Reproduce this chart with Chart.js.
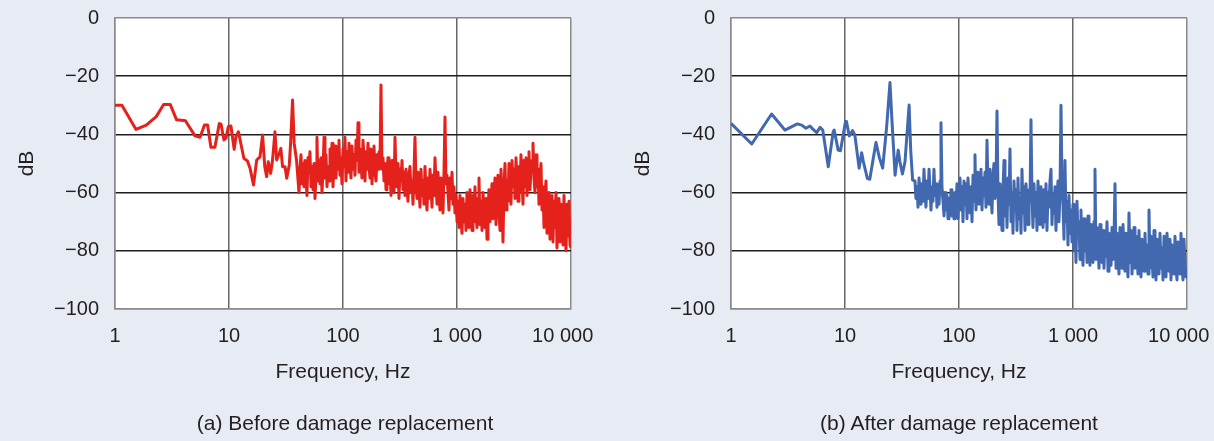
<!DOCTYPE html>
<html>
<head>
<meta charset="utf-8">
<script src="https://cdn.jsdelivr.net/npm/chart.js@4.4.0/dist/chart.umd.min.js"></script>
<style>
  body {
    margin: 0;
    width: 1214px;
    height: 441px;
    overflow: hidden;
    position: relative;
    background: #e7ebf4;
    font-family: "Liberation Sans", Arial, Helvetica, sans-serif;
    color: #231f20;
  }
  canvas { position: absolute; top: 0; }
  #chartA { left: 0; }
  #chartB { left: 616px; }
  .caption {
    position: absolute;
    top: 411px;
    width: 400px;
    text-align: center;
    font-size: 21px;
    line-height: 24px;
  }
</style>
</head>
<body>
<canvas id="chartA" width="616" height="441"></canvas>
<canvas id="chartB" width="598" height="441"></canvas>
<div class="caption" style="left:145px">(a) Before damage replacement</div>
<div class="caption" style="left:759px">(b) After damage replacement</div>

<script>
// --- axis ticks ---
const tickHz = [1, 10, 100, 1000, 10000];
const tickHzLabels = ['1', '10', '100', '1 000', '10 000'];
const tickDb = [0, -20, -40, -60, -80, -100];
const tickDbLabels = ['0', '\u221220', '\u221240', '\u221260', '\u221280', '\u2212100'];

// --- low frequency part (sparse, read point by point) ---
const redLowHz = [1, 1.15, 1.53, 1.88, 2.3, 2.67, 3.05, 3.47, 4.15, 5.03, 5.57, 6.1, 6.49, 6.94, 7.52,
  8.22, 8.51, 9.03, 9.41, 9.87, 10.4, 11.1, 11.5, 12.1, 12.9, 13.5, 14.5, 15.3, 16.4, 17.5,
  18.7, 19.7, 20.6, 21.4, 22.1, 23.2, 24.1, 25.3, 26.2, 27.6, 28.5, 29.5, 31, 32.1, 33.8,
  34.7, 36.1, 37.3, 39.1];
const redLowDb = [-30, -30, -38.3, -36.8, -33.9, -29.7, -29.7, -35, -35.3, -40.5, -41, -36.8, -36.8, -44.4, -44.4,
  -36.3, -36.4, -41.9, -41.3, -37.3, -37.1, -45.1, -40.8, -39.1, -44.4, -48.2, -49.1, -51.6, -57.4, -48.8,
  -47.7, -40.2, -51.1, -54.5, -49.4, -53.4, -48.8, -39.1, -48.8, -46.5, -44.8, -51.1, -51.1, -55.1, -50.5,
  -43.1, -28.2, -43.1, -48.8];

const blueLowHz = [1, 1.52, 2.27, 2.97, 3.82, 4.17, 4.54, 4.93, 5.2, 5.65, 6.04, 6.38, 7.13, 7.88, 8.04,
  8.71, 9.13, 10.1, 10.3, 10.9, 11.66, 12.2, 13.3, 14, 14.5, 15.7, 16.5, 17.9, 18.7, 20,
  21.4, 23.2, 24.8, 25.9, 27.5, 29.3, 30.3, 31.9, 33.6, 36.5, 37.7, 39.2];
const blueLowDb = [-36.2, -43.3, -33, -38.5, -36.4, -36.8, -37.9, -37.1, -38.1, -39.4, -37.6, -38.5, -51.1, -39.1, -38.5,
  -45.4, -45.6, -35.6, -35.6, -40.5, -38.7, -40.2, -51.6, -46.3, -49.4, -55.1, -55.4, -47.1, -42.8, -47.9,
  -51.6, -37.3, -22.2, -36.2, -54, -45.4, -49.4, -53.6, -49.4, -29.9, -45.4, -55.7];

// --- dense part above ~40 Hz, one frequency grid shared by both spectra ---
const denseHz = [
  41.1, 41.9, 42.8, 43.7, 44.6, 45.5, 46.4, 47.4, 48.3, 49.3,
  50.3, 51.3, 52.4, 53.5, 54.6, 55.7, 56.8, 58.0, 59.1, 60.3,
  61.6, 62.9, 64.1, 65.4, 66.8, 68.2, 69.5, 70.9, 72.4, 73.9,
  75.4, 76.9, 78.5, 80.1, 81.7, 83.4, 85.1, 86.8, 88.6, 90.4,
  92.2, 94.1, 96.0, 98.0, 100, 102, 104.1, 106.2, 108.4, 110.6,
  112.9, 115.2, 117.5, 119.9, 122.4, 124.9, 127.4, 130.0, 132.7, 135.4,
  138.1, 140.9, 143.8, 146.7, 149.8, 152.9, 155.9, 159.1, 162.4, 165.7,
  169.1, 172.5, 176.0, 179.6, 183.3, 187.0, 190.8, 194.7, 198.7, 202.8,
  206.9, 211.1, 215.4, 219.8, 224.3, 228.9, 233.6, 238.4, 243.2, 248.2,
  253.2, 258.4, 263.7, 269.1, 274.5, 280.1, 285.8, 291.6, 297.6, 303.7,
  309.9, 316.2, 322.7, 329.3, 336.0, 342.9, 349.8, 356.9, 364.2, 371.6,
  379.2, 386.9, 394.9, 403.0, 411.1, 419.5, 428.1, 436.8, 445.7, 454.8,
  464.1, 473.6, 483.2, 493.1, 503.1, 513.4, 523.9, 534.6, 545.5, 556.6,
  567.9, 579.5, 591.3, 603.4, 615.7, 628.3, 641.1, 654.2, 667.5, 681.1,
  695.0, 709.2, 723.7, 738.5, 753.5, 768.9, 784.6, 800.6, 816.9, 833.6,
  850.6, 868.0, 885.6, 903.7, 922.1, 940.9, 960.1, 979.7, 1000, 1020,
  1041, 1062, 1084, 1106, 1129, 1152, 1175, 1199, 1224, 1249,
  1274, 1300, 1327, 1354, 1381, 1409, 1438, 1467, 1498, 1529,
  1559, 1591, 1624, 1657, 1691, 1726, 1760, 1796, 1833, 1870,
  1908, 1947, 1987, 2028, 2069, 2111, 2154, 2198, 2243, 2289,
  2336, 2384, 2432, 2482, 2532, 2584, 2637, 2691, 2745, 2801,
  2858, 2916, 2976, 3037, 3099, 3162, 3227, 3293, 3360, 3429,
  3498, 3569, 3642, 3716, 3792, 3869, 3949, 4030, 4112, 4196,
  4281, 4368, 4458, 4549, 4641, 4736, 4833, 4932, 5032, 5135,
  5239, 5346, 5455, 5566, 5680, 5796, 5914, 6035, 6158, 6284,
  6412, 6543, 6676, 6812, 6951, 7093, 7238, 7386, 7536, 7690,
  7847, 8007, 8170, 8337, 8507, 8681, 8858, 9039, 9223, 9411,
  9603, 9799, 10000];

const redDenseDb = [
  -60, -52, -47, -57, -50, -58, -49, -55, -61, -48,
  -53, -46, -58, -51, -59, -50, -62, -54, -41, -56,
  -49, -57, -48, -60, -52, -41, -55, -47, -58, -51,
  -56, -45, -53, -43, -58, -49, -44, -55, -47, -52,
  -42, -54, -48, -57, -45, -51, -41, -56, -46, -53,
  -43, -50, -55, -44, -52, -47, -54, -42, -49, -36,
  -53, -45, -50, -55, -42, -48, -56, -46, -52, -43,
  -51, -55, -45, -57, -49, -44, -53, -56, -47, -52,
  -46, -50, -23, -52, -48, -56, -50, -59, -53, -48,
  -57, -51, -61, -49, -55, -60, -41, -54, -58, -50,
  -62, -52, -56, -49, -59, -53, -61, -52, -57, -63,
  -54, -51, -60, -56, -64, -53, -41, -58, -62, -53,
  -59, -65, -52, -61, -56, -64, -51, -60, -66, -55,
  -62, -52, -58, -65, -54, -61, -48, -57, -64, -53,
  -60, -66, -55, -62, -67, -53, -34, -57, -54, -60,
  -66, -55, -62, -53, -64, -58, -67, -61, -70, -63,
  -72, -61, -68, -74, -62, -70, -64, -73, -60, -69,
  -72, -59, -66, -73, -61, -70, -58, -68, -72, -62,
  -55, -71, -63, -73, -60, -68, -72, -62, -76, -66,
  -59, -70, -64, -57, -69, -62, -55, -71, -60, -54,
  -67, -73, -52, -62, -77, -58, -50, -66, -56, -63,
  -50, -60, -64, -49, -58, -52, -62, -48, -57, -63,
  -51, -60, -47, -55, -64, -49, -58, -48, -61, -53,
  -46, -59, -52, -49, -43, -55, -60, -47, -58, -52,
  -64, -55, -50, -66, -58, -72, -61, -56, -74, -63,
  -60, -76, -65, -61, -77, -63, -72, -60, -79, -68,
  -62, -77, -64, -70, -78, -61, -73, -80, -64, -75,
  -63, -78, -79];

const blueDenseDb = [
  -56, -62, -58, -65, -55, -60, -64, -57, -63, -52,
  -60, -65, -56, -62, -52, -59, -66, -58, -63, -52,
  -61, -57, -65, -59, -64, -56, -36, -58, -63, -68,
  -60, -66, -61, -69, -62, -67, -59, -68, -63, -69,
  -60, -66, -57, -69, -61, -55, -66, -58, -70, -56,
  -64, -57, -69, -55, -62, -67, -58, -70, -54, -63,
  -47, -66, -56, -53, -64, -58, -52, -66, -55, -61,
  -53, -65, -42, -58, -64, -52, -60, -67, -54, -50,
  -62, -58, -32, -60, -71, -57, -65, -73, -59, -49,
  -68, -58, -72, -55, -64, -45, -70, -60, -74, -56,
  -66, -59, -73, -55, -69, -62, -74, -52, -67, -58,
  -73, -57, -65, -71, -59, -63, -35, -62, -72, -57,
  -68, -60, -73, -56, -66, -71, -58, -64, -72, -59,
  -70, -57, -73, -60, -65, -56, -52, -71, -61, -67,
  -58, -73, -62, -56, -70, -60, -30, -57, -64, -76,
  -49, -70, -63, -78, -61, -74, -66, -77, -64, -80,
  -68, -84, -63, -75, -70, -83, -66, -78, -85, -69,
  -80, -72, -84, -68, -79, -85, -71, -76, -84, -70,
  -52, -83, -72, -78, -86, -71, -80, -84, -73, -86,
  -75, -82, -70, -87, -74, -79, -85, -72, -83, -76,
  -57, -86, -74, -80, -88, -72, -82, -86, -71, -79,
  -87, -74, -83, -89, -67, -84, -73, -88, -78, -72,
  -86, -75, -81, -88, -73, -84, -89, -76, -80, -87,
  -74, -85, -78, -88, -66, -86, -75, -82, -89, -73,
  -84, -90, -76, -81, -88, -74, -86, -79, -90, -75,
  -83, -89, -74, -80, -87, -76, -90, -78, -84, -88,
  -75, -86, -90, -77, -82, -88, -74, -85, -90, -76,
  -84, -89, -87];

const FONT = '"Liberation Sans", Arial, Helvetica, sans-serif';
const TEXT = '#231f20';
const FRAME = '#8a8a8a';

// white plot area on the tinted page
const plotBg = {
  id: 'plotBg',
  beforeDraw(chart) {
    const { ctx, chartArea: a } = chart;
    ctx.save();
    ctx.fillStyle = '#ffffff';
    ctx.fillRect(a.left, a.top, a.right - a.left, a.bottom - a.top);
    ctx.restore();
  }
};

function toPoints(hz, db) {
  const n = Math.min(hz.length, db.length);
  const pts = [];
  for (let i = 0; i < n; i++) pts.push({ x: hz[i], y: db[i] });
  return pts;
}

function makeChart(id, lowHz, lowDb, denseDb, color, padRight) {
  const points = toPoints(lowHz, lowDb).concat(toPoints(denseHz, denseDb));

  return new Chart(document.getElementById(id), {
    type: 'line',
    data: {
      datasets: [{
        data: points,
        borderColor: color,
        borderWidth: 3,
        borderJoinStyle: 'round',
        pointRadius: 0,
        tension: 0,
        fill: false
      }]
    },
    options: {
      responsive: false,
      animation: false,
      events: [],
      layout: { padding: { top: 18, left: 0, right: padRight, bottom: 0 } },
      plugins: { legend: { display: false }, tooltip: { enabled: false } },
      scales: {
        x: {
          type: 'logarithmic',
          min: 1,
          max: 10000,
          afterBuildTicks: s => { s.ticks = tickHz.map(v => ({ value: v })); },
          afterFit: s => { s.height = 132; s.paddingLeft = 0; s.paddingRight = 0; },
          ticks: {
            autoSkip: false,
            maxRotation: 0,
            padding: 15,
            color: TEXT,
            font: { family: FONT, size: 20 },
            // last label sits a little left of its gridline in the original
            callback: v => {
              const i = tickHz.indexOf(v);
              return i === tickHz.length - 1 ? tickHzLabels[i] + '   ' : tickHzLabels[i];
            }
          },
          grid: {
            drawTicks: false,
            lineWidth: 1.5,
            color: c => (c.tick && (c.tick.value === 1 || c.tick.value === 10000)) ? FRAME : '#666666'
          },
          border: { color: FRAME, width: 1.5 },
          title: {
            display: true,
            text: 'Frequency, Hz',
            color: TEXT,
            font: { family: FONT, size: 21 },
            padding: { top: 0, bottom: 56 }
          }
        },
        y: {
          min: -100,
          max: 0,
          afterBuildTicks: s => { s.ticks = tickDb.map(v => ({ value: v })); },
          afterFit: s => { s.width = 115; s.paddingTop = 0; s.paddingBottom = 0; },
          ticks: {
            padding: 16,
            color: TEXT,
            font: { family: FONT, size: 20 },
            callback: v => tickDbLabels[tickDb.indexOf(v)]
          },
          grid: {
            drawTicks: false,
            lineWidth: 1.4,
            color: c => (c.tick && (c.tick.value === 0 || c.tick.value === -100)) ? FRAME : '#1e1e1e'
          },
          border: { color: FRAME, width: 1.5 },
          title: {
            display: true,
            text: 'dB',
            color: TEXT,
            font: { family: FONT, size: 21 },
            padding: { top: 15, bottom: 0 }
          }
        }
      }
    },
    plugins: [plotBg]
  });
}

makeChart('chartA', redLowHz, redLowDb, redDenseDb, '#e5211c', 45);
makeChart('chartB', blueLowHz, blueLowDb, blueDenseDb, '#4268b0', 27);
</script>
</body>
</html>
